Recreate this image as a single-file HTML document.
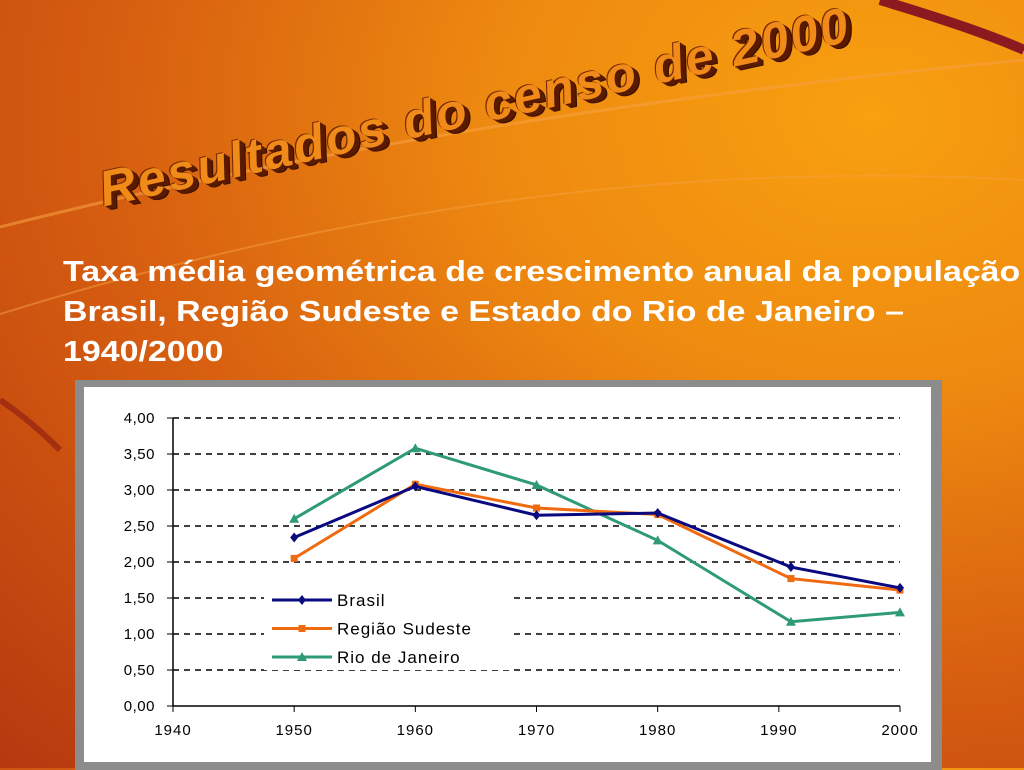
<!DOCTYPE html>
<html><head><meta charset="utf-8"><style>
html,body{margin:0;padding:0}
body{width:1024px;height:768px;overflow:hidden;position:relative;font-family:"Liberation Sans",sans-serif;
background:radial-gradient(ellipse at 85% 15%,#f8a010 0%,#ee8a10 30%,#d86010 60%,#b63810 100%);}
.sub{position:absolute;left:63px;top:252px;color:#fff;font-weight:bold;font-size:29px;line-height:40px;white-space:nowrap;transform:scaleX(1.17);transform-origin:0 0}
.title{position:absolute;left:100px;top:162px;height:56px;line-height:56px;font-size:50px;font-style:italic;font-weight:bold;color:#f08a18;
transform:rotate(-12.5deg);transform-origin:0 50%;white-space:nowrap;letter-spacing:2.5px;
text-shadow:1px 1px 0 #5a1a00,2px 2px 0 #5a1a00,3px 3px 0 #5a1a00,4px 4px 0 #5a1a00,5px 5px 0 #3a1000,-1px -1px 0 #7a2a00;}
#frame{position:absolute;left:75px;top:380px;width:867px;height:390px;background:#8c8c8c}
svg{position:absolute;left:0;top:0}
</style></head><body>
<svg width="1024" height="768">
<path d="M-50 240 Q400 120 1024 60" stroke="#f6a040" stroke-width="3" fill="none" opacity=".6"/>
<path d="M-50 330 Q500 150 1024 180" stroke="#f6a040" stroke-width="2" fill="none" opacity=".5"/>
<path d="M880 0 Q980 30 1024 50" stroke="#8a1a20" stroke-width="10" fill="none"/>
<path d="M0 400 Q30 420 60 450" stroke="#8a1a10" stroke-width="6" fill="none" opacity=".6"/>
</svg>
<div class="title">Resultados do censo de 2000</div>
<div class="sub">Taxa média geométrica de crescimento anual da população<br>Brasil, Região Sudeste e Estado do Rio de Janeiro –<br>1940/2000</div>
<div id="frame"></div>
<svg id="chart" width="1024" height="768"></svg>
<script>
const years=[1950,1960,1970,1980,1991,2000];
const brasil=[2.34,3.05,2.65,2.68,1.93,1.64];
const sudeste=[2.05,3.08,2.75,2.66,1.77,1.61];
const rio=[2.60,3.58,3.07,2.30,1.17,1.30];
const yTicks=[0,0.5,1,1.5,2,2.5,3,3.5,4];
const yTickLabels=["0,00","0,50","1,00","1,50","2,00","2,50","3,00","3,50","4,00"];
const xTicks=[1940,1950,1960,1970,1980,1990,2000];
const seriesNames=["Brasil","Região Sudeste","Rio de Janeiro"];
const NS="http://www.w3.org/2000/svg";
const svg=document.getElementById('chart');
const X=y=>173+(y-1940)*(900-173)/60;
const Y=v=>706-v*(706-418)/4;
function el(t,a,p){const e=document.createElementNS(NS,t);for(const k in a)e.setAttribute(k,a[k]);(p||svg).appendChild(e);return e;}
const bg=el('rect',{x:84,y:387,width:847,height:375,fill:'#fff'});


yTicks.forEach((v,i)=>{
  if(v>0){const g=el('line',{x1:173,x2:900,y1:Y(v),y2:Y(v),stroke:'#000','stroke-width':1.5,'stroke-dasharray':'6 5'});
  
  }
  el('line',{x1:167,x2:173,y1:Y(v),y2:Y(v),stroke:'#000'});
  const t=el('text',{x:155,y:Y(v)+5,'text-anchor':'end','font-size':15,'letter-spacing':'0.5','font-family':'Liberation Sans, sans-serif'});
  t.textContent=yTickLabels[i];
  
  
});
xTicks.forEach(v=>{
  el('line',{x1:X(v),x2:X(v),y1:706,y2:712,stroke:'#000'});
  const t=el('text',{x:X(v),y:735,'text-anchor':'middle','font-size':15,'letter-spacing':'1','font-family':'Liberation Sans, sans-serif'});
  t.textContent=v;
  
  
});
el('line',{x1:173,x2:173,y1:418,y2:706,stroke:'#000','stroke-width':1.5});
el('line',{x1:173,x2:900,y1:706,y2:706,stroke:'#000','stroke-width':1.5});
const lg=el('rect',{x:264,y:586,width:246,height:84,fill:'#fff'});


const colors=['#0a0a80','#f06a10','#2e9a78'];
const datas=[brasil,sudeste,rio];
function marker(i,x,y){
  if(i==0) return el('path',{d:`M${x} ${y-5}L${x+4} ${y}L${x} ${y+5}L${x-4} ${y}Z`,fill:colors[i]});
  if(i==1) return el('rect',{x:x-3.5,y:y-3.5,width:7,height:7,fill:colors[i]});
  return el('path',{d:`M${x} ${y-5}L${x+5} ${y+4}L${x-5} ${y+4}Z`,fill:colors[i]});
}
[2,1,0].forEach(i=>{
  const d=datas[i];
  const p=el('polyline',{points:d.map((v,j)=>X(years[j])+','+Y(v)).join(' '),fill:'none',stroke:colors[i],'stroke-width':3});
  
  
  d.forEach((v,j)=>{const m=marker(i,X(years[j]),Y(v));
    
    });
});
seriesNames.forEach((n,i)=>{
  const y=600+i*28.5;
  el('line',{x1:272,x2:332,y1:y,y2:y,stroke:colors[i],'stroke-width':3});
  marker(i,302,y);
  const t=el('text',{x:337,y:y+6,'font-size':17,'letter-spacing':'1','font-family':'Liberation Sans, sans-serif'});
  t.textContent=n;
  
  
});
</script>
</body></html>
